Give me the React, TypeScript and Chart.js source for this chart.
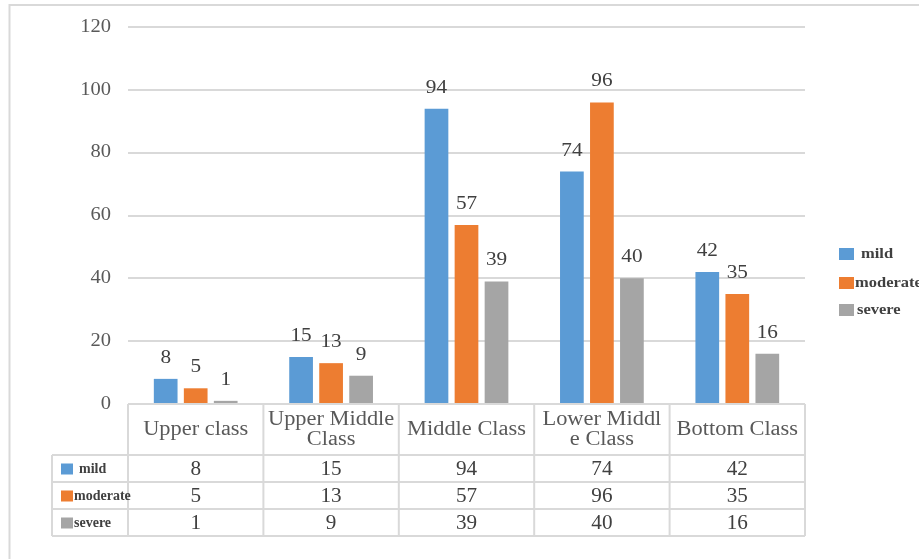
import { useEffect, useRef } from "react";
import { Chart, registerables } from "chart.js";

Chart.register(...registerables);

// Category labels, already split into the lines shown in the table header
const categories: string[][] = [
  ["Upper class"],
  ["Upper Middle", "Class"],
  ["Middle Class"],
  ["Lower Middl", "e Class"],
  ["Bottom Class"],
];
const seriesNames = ["mild", "moderate", "severe"];
const mild = [8, 15, 94, 74, 42];
const moderate = [5, 13, 57, 96, 35];
const severe = [1, 9, 39, 40, 16];
const yTickValues = [0, 20, 40, 60, 80, 100, 120];

const seriesColors = ["#5B9BD5", "#ED7D31", "#A5A5A5"];
const lineColor = "#d9d9d9";
const serif = '"Liberation Serif", "Times New Roman", serif';

function drawText(
  ctx: CanvasRenderingContext2D,
  s: string,
  x: number,
  y: number,
  align: CanvasTextAlign,
  scaleX: number
) {
  ctx.save();
  ctx.translate(x, y);
  ctx.scale(scaleX, 1);
  ctx.textAlign = align;
  ctx.fillText(s, 0, 0);
  ctx.restore();
}

function hLine(ctx: CanvasRenderingContext2D, x1: number, x2: number, y: number) {
  ctx.beginPath();
  ctx.moveTo(x1, y);
  ctx.lineTo(x2, y);
  ctx.stroke();
}

function vLine(ctx: CanvasRenderingContext2D, x: number, y1: number, y2: number) {
  ctx.beginPath();
  ctx.moveTo(x, y1);
  ctx.lineTo(x, y2);
  ctx.stroke();
}

const decorations = {
  id: "decorations",
  beforeDraw(chart: any) {
    const ctx: CanvasRenderingContext2D = chart.ctx;
    ctx.save();
    ctx.fillStyle = "#ffffff";
    ctx.fillRect(0, 0, chart.width, chart.height);
    // outer frame
    ctx.strokeStyle = lineColor;
    ctx.lineWidth = 2;
    ctx.strokeRect(9.5, 5, chart.width + 20, chart.height + 20);
    ctx.restore();
  },
  afterDatasetsDraw(chart: any) {
    const ctx: CanvasRenderingContext2D = chart.ctx;
    const xs = chart.scales.x;
    const ys = chart.scales.y;
    const area = chart.chartArea;
    ctx.save();

    // y tick labels
    ctx.fillStyle = "#595959";
    ctx.font = `18px ${serif}`;
    ctx.textBaseline = "middle";
    yTickValues.forEach((v) => {
      drawText(ctx, String(v), area.left - 17, ys.getPixelForValue(v), "right", 1.14);
    });

    // value labels above the bars
    ctx.fillStyle = "#404040";
    ctx.textBaseline = "alphabetic";
    ctx.font = `18px ${serif}`;
    chart.data.datasets.forEach((ds: any, di: number) => {
      const meta = chart.getDatasetMeta(di);
      meta.data.forEach((bar: any, i: number) => {
        const p = bar.getProps(["x", "y"], true);
        drawText(ctx, String(ds.data[i]), p.x, p.y - 16, "center", 1.18);
      });
    });

    // data table under the plot
    const step = xs.getPixelForValue(1) - xs.getPixelForValue(0);
    const top = ys.getPixelForValue(0);
    const headerBottom = top + 51;
    const rowH = 27;
    const tableBottom = headerBottom + rowH * 3;
    const labelLeft = 52;
    ctx.strokeStyle = lineColor;
    ctx.lineWidth = 2;
    hLine(ctx, area.left, area.right, top);
    for (let r = 0; r <= 3; r++) hLine(ctx, labelLeft, area.right, headerBottom + r * rowH);
    vLine(ctx, labelLeft, headerBottom, tableBottom);
    for (let i = 0; i <= categories.length; i++) {
      const bx = xs.getPixelForValue(0) - step / 2 + i * step;
      vLine(ctx, bx, top, tableBottom);
    }

    // header cells
    ctx.fillStyle = "#595959";
    ctx.font = `20px ${serif}`;
    ctx.textBaseline = "middle";
    const headerMid = (top + headerBottom) / 2;
    categories.forEach((lines, i) => {
      const cx = xs.getPixelForValue(i);
      lines.forEach((ln, k) => {
        const y = headerMid + (k - (lines.length - 1) / 2) * 20;
        drawText(ctx, ln, cx, y, "center", 1.12);
      });
    });

    // value rows
    const rows = [mild, moderate, severe];
    ctx.fillStyle = "#404040";
    rows.forEach((vals, r) => {
      const cy = headerBottom + r * rowH + rowH / 2;
      vals.forEach((v, i) => {
        drawText(ctx, String(v), xs.getPixelForValue(i), cy + 1, "center", 1.06);
      });
      // legend key in the first column
      ctx.fillStyle = seriesColors[r];
      ctx.fillRect(61, cy - 5, 12, 11);
      ctx.fillStyle = "#404040";
      ctx.font = `bold 14px ${serif}`;
      ctx.textAlign = "left";
      const tx = r === 0 ? 79 : 74;
      ctx.fillText(seriesNames[r], tx, cy + 1);
      ctx.font = `20px ${serif}`;
    });

    // legend on the right
    ctx.font = `bold 15px ${serif}`;
    ctx.textBaseline = "middle";
    const legendY = [254, 283, 310];
    const legendTextX = [861, 855, 857];
    seriesNames.forEach((name, r) => {
      ctx.fillStyle = seriesColors[r];
      ctx.fillRect(839, legendY[r] - 6, 15, 12);
      ctx.fillStyle = "#404040";
      drawText(ctx, name, legendTextX[r], legendY[r], "left", 1.1);
    });

    ctx.restore();
  },
};

export default function App() {
  const canvasRef = useRef<HTMLCanvasElement | null>(null);

  useEffect(() => {
    if (!canvasRef.current) return;
    const chart = new Chart(canvasRef.current, {
      type: "bar",
      data: {
        labels: categories.map((c) => c.join(" ")),
        datasets: [
          { label: seriesNames[0], data: mild, backgroundColor: seriesColors[0] },
          { label: seriesNames[1], data: moderate, backgroundColor: seriesColors[1] },
          { label: seriesNames[2], data: severe, backgroundColor: seriesColors[2] },
        ],
      },
      options: {
        responsive: false,
        animation: false,
        events: [],
        layout: { padding: { left: 0, top: 27, right: 114, bottom: 155 } },
        datasets: {
          bar: { categoryPercentage: 0.665, barPercentage: 0.79 },
        },
        plugins: {
          legend: { display: false },
          tooltip: { enabled: false },
        },
        scales: {
          x: { display: false },
          y: {
            min: 0,
            max: 120,
            ticks: { stepSize: 20, display: false },
            grid: { color: lineColor, lineWidth: 2, drawTicks: false },
            border: { display: false },
            afterFit: (scale: any) => {
              scale.width = 128;
            },
          },
        },
      },
      plugins: [decorations],
    });
    return () => chart.destroy();
  }, []);

  return (
    <div style={{ position: "fixed", left: 0, top: 0, width: 919, height: 559 }}>
      <canvas ref={canvasRef} width={919} height={559} style={{ display: "block" }} />
    </div>
  );
}
